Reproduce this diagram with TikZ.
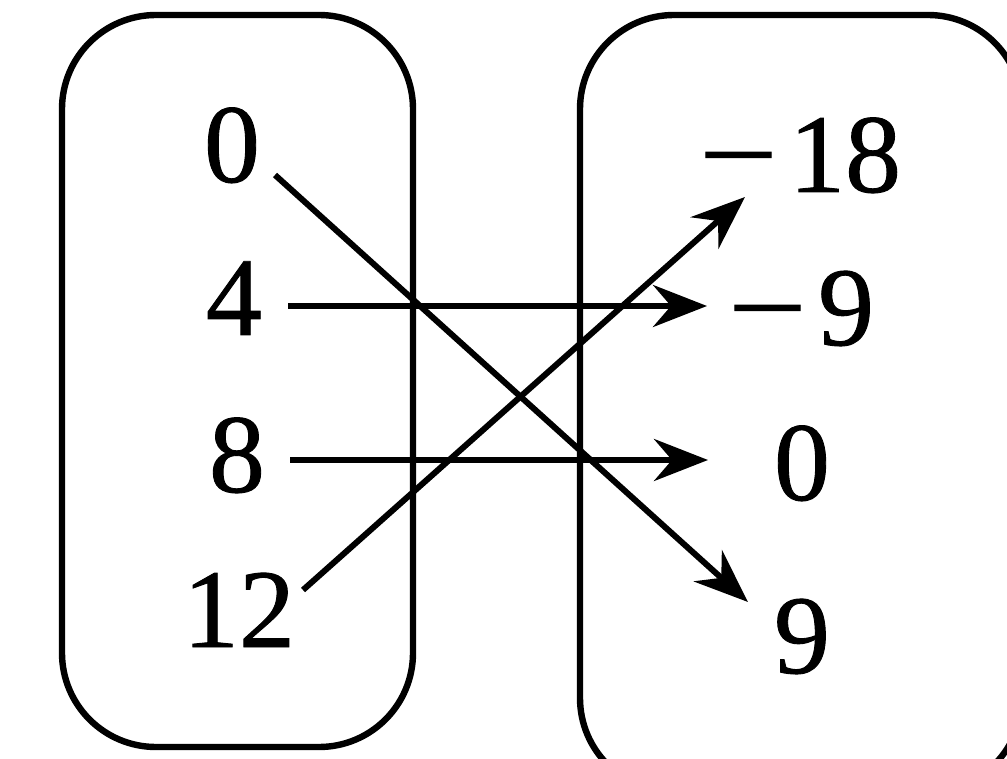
\documentclass[tikz,border=0pt]{standalone}
\usepackage{fontspec}
\usepackage{graphicx}
\setmainfont{Liberation Serif}
\newfontfamily\numfont[FakeBold=0.8]{Liberation Serif}
\usetikzlibrary{arrows.meta}
\newcommand{\longminus}{\scalebox{1.25}[1]{−}}
\begin{document}
\begin{tikzpicture}[x=0.5pt,y=-0.5pt,
  setbox/.style={line width=3.2pt, rounded corners=47pt},
  num/.style={inner sep=0pt, anchor=base, font=\numfont\fontsize{56}{60}\selectfont},
  arr/.style={line width=3pt, -{Stealth[length=27pt,width=21pt,inset=9pt]}}]
\useasboundingbox (0,0) rectangle (1007,759);
\begin{scope}
  \clip (0,0) rectangle (1007,759);
  \draw[setbox] (62,15) rectangle (413,747);
  \draw[setbox] (580,15) rectangle (1022,792);
\end{scope}
% domain
\node[num] (a0)  at (232,182) {0};
\node[num] (a4)  at (234,335) {4};
\node[num] (a8)  at (237,492) {8};
\node[num] (a12) at (239,647) {12};
% range
\node[num] (bm18) at (800,192) {\longminus\kern0.1em18};
\node[num] (bm9)  at (801,345) {\longminus\kern0.1em9};
\node[num] (b0)   at (802,500) {0};
\node[num] (b9)   at (802,673) {9};
% arrows
\draw[arr] ([shift={(43,-7)}]a0.base) -- ([shift={(-54,-71)}]b9.base);
\draw[arr] ([shift={(54,-29)}]a4.base) -- ([shift={(-94,-39)}]bm9.base);
\draw[arr] ([shift={(53,-32)}]a8.base) -- ([shift={(-94,-40)}]b0.base);
\draw[arr] ([shift={(64,-57)}]a12.base) -- ([shift={(-55,5)}]bm18.base);
\end{tikzpicture}
\end{document}
